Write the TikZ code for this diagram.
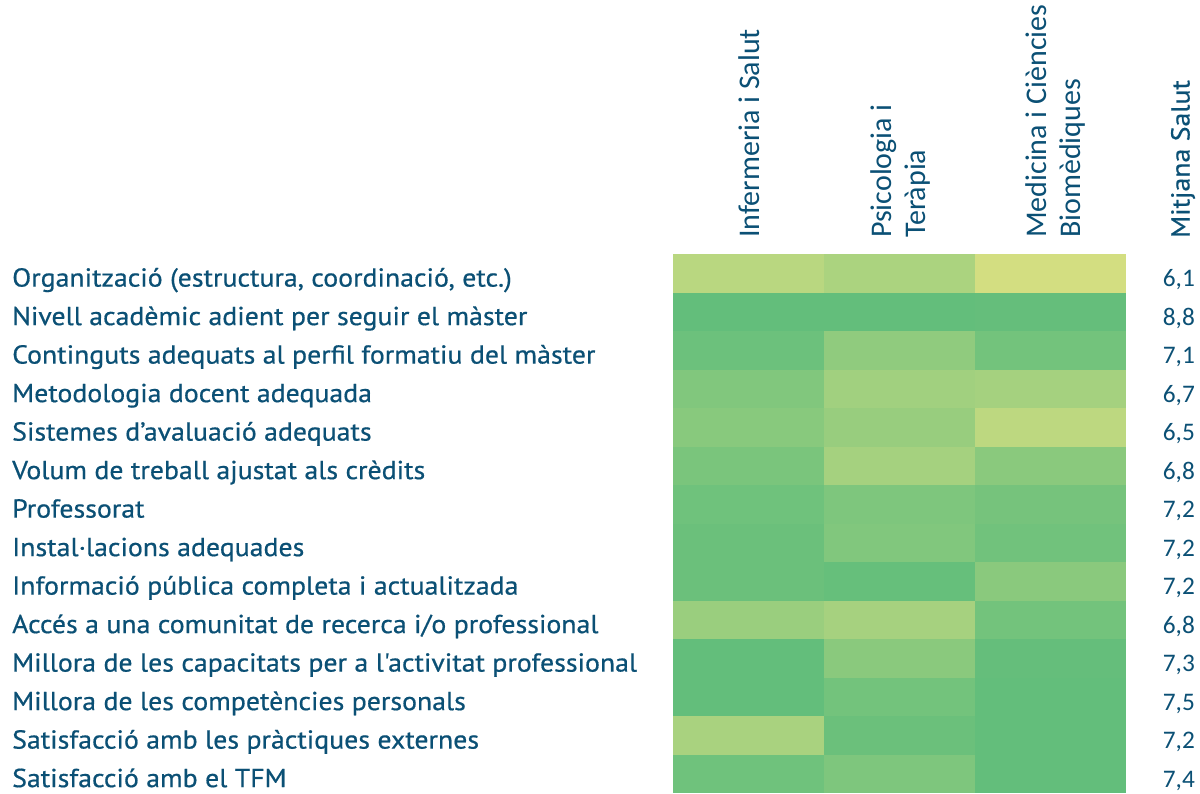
\documentclass[tikz,border=0pt]{standalone}
\usepackage{fontspec}
\setmainfont{PT Sans}
\newfontfamily\calib{Carlito}
\newfontfamily\labf[FakeStretch=1.07,FakeBold=0.6]{PT Sans}
\definecolor{txt}{HTML}{0B5075}
\definecolor{hig}{HTML}{63BE7B}
\definecolor{loy}{HTML}{FFEB84}
\newcommand\hmrow[6]{%
  \pgfmathsetmacro\yy{254+38.5*(#1-1)}%
  \pgfmathsetmacro\yb{\yy+32.6}%
  \node[cell,fill=loy!#2!hig] (a#1) at (672.5,\yy) {};
  \node[cell,fill=loy!#3!hig] (b#1) at (823.5,\yy) {};
  \node[cell,fill=loy!#4!hig] (c#1) at (974.5,\yy) {};
  \node[lbl] (l#1) at (12,\yb) {#5};
  \node[val] (v#1) at (1195,\yb) {#6};
}
\begin{document}
\begin{tikzpicture}[x=1pt,y=-1pt,
  cell/.style={draw=none,inner sep=0,outer sep=0,minimum width=151.4pt,minimum height=38.8pt,anchor=north west},
  lbl/.style={anchor=base west,inner sep=0,text=txt,font=\labf\fontsize{26}{30}\selectfont},
  val/.style={anchor=base east,inner sep=0,text=txt,font=\calib\fontsize{25.3}{30}\selectfont},
  hdr/.style={rotate=90,anchor=west,inner sep=0,text=txt,align=left,font=\calib\fontsize{30}{34}\selectfont},
  hdrm/.style={rotate=90,anchor=west,inner sep=0,text=txt,align=left,font=\labf\fontsize{26}{30}\selectfont}]
\useasboundingbox (0,0) rectangle (1200,793);
\fill[white] (0,0) rectangle (1200,793);
\node[hdr] (h1) at (749.5,238) {Infermeria i Salut};
\node[hdr] (h2) at (900,238) {Psicologia i\\Teràpia};
\node[hdr] (h3) at (1055,238) {Medicina i Ciències\\Biomèdiques};
\node[hdrm] (h4) at (1183,238) {Mitjana Salut};
\hmrow{1}{55}{46}{72}{Organització (estructura, coordinació, etc.)}{6,1}
\hmrow{2}{0}{0}{1}{Nivell acadèmic adient per seguir el màster}{8,8}
\hmrow{3}{6}{29}{10}{Continguts adequats al perfil formatiu del màster}{7,1}
\hmrow{4}{19}{40}{42}{Metodologia docent adequada}{6,7}
\hmrow{5}{24}{34}{58}{Sistemes d’avaluació adequats}{6,5}
\hmrow{6}{15}{42}{25}{Volum de treball ajustat als crèdits}{6,8}
\hmrow{7}{8}{17}{12}{Professorat}{7,2}
\hmrow{8}{5}{19}{9}{Instal·lacions adequades}{7,2}
\hmrow{9}{5}{2}{25}{Informació pública completa i actualitzada}{7,2}
\hmrow{10}{35}{43}{10}{Accés a una comunitat de recerca i/o professional}{6,8}
\hmrow{11}{0}{25}{1}{Millora de les capacitats per a l'activitat professional}{7,3}
\hmrow{12}{0}{10}{0}{Millora de les competències personals}{7,5}
\hmrow{13}{45}{5}{0}{Satisfacció amb les pràctiques externes}{7,2}
\hmrow{14}{8}{17}{0}{Satisfacció amb el TFM}{7,4}
\end{tikzpicture}
\end{document}
